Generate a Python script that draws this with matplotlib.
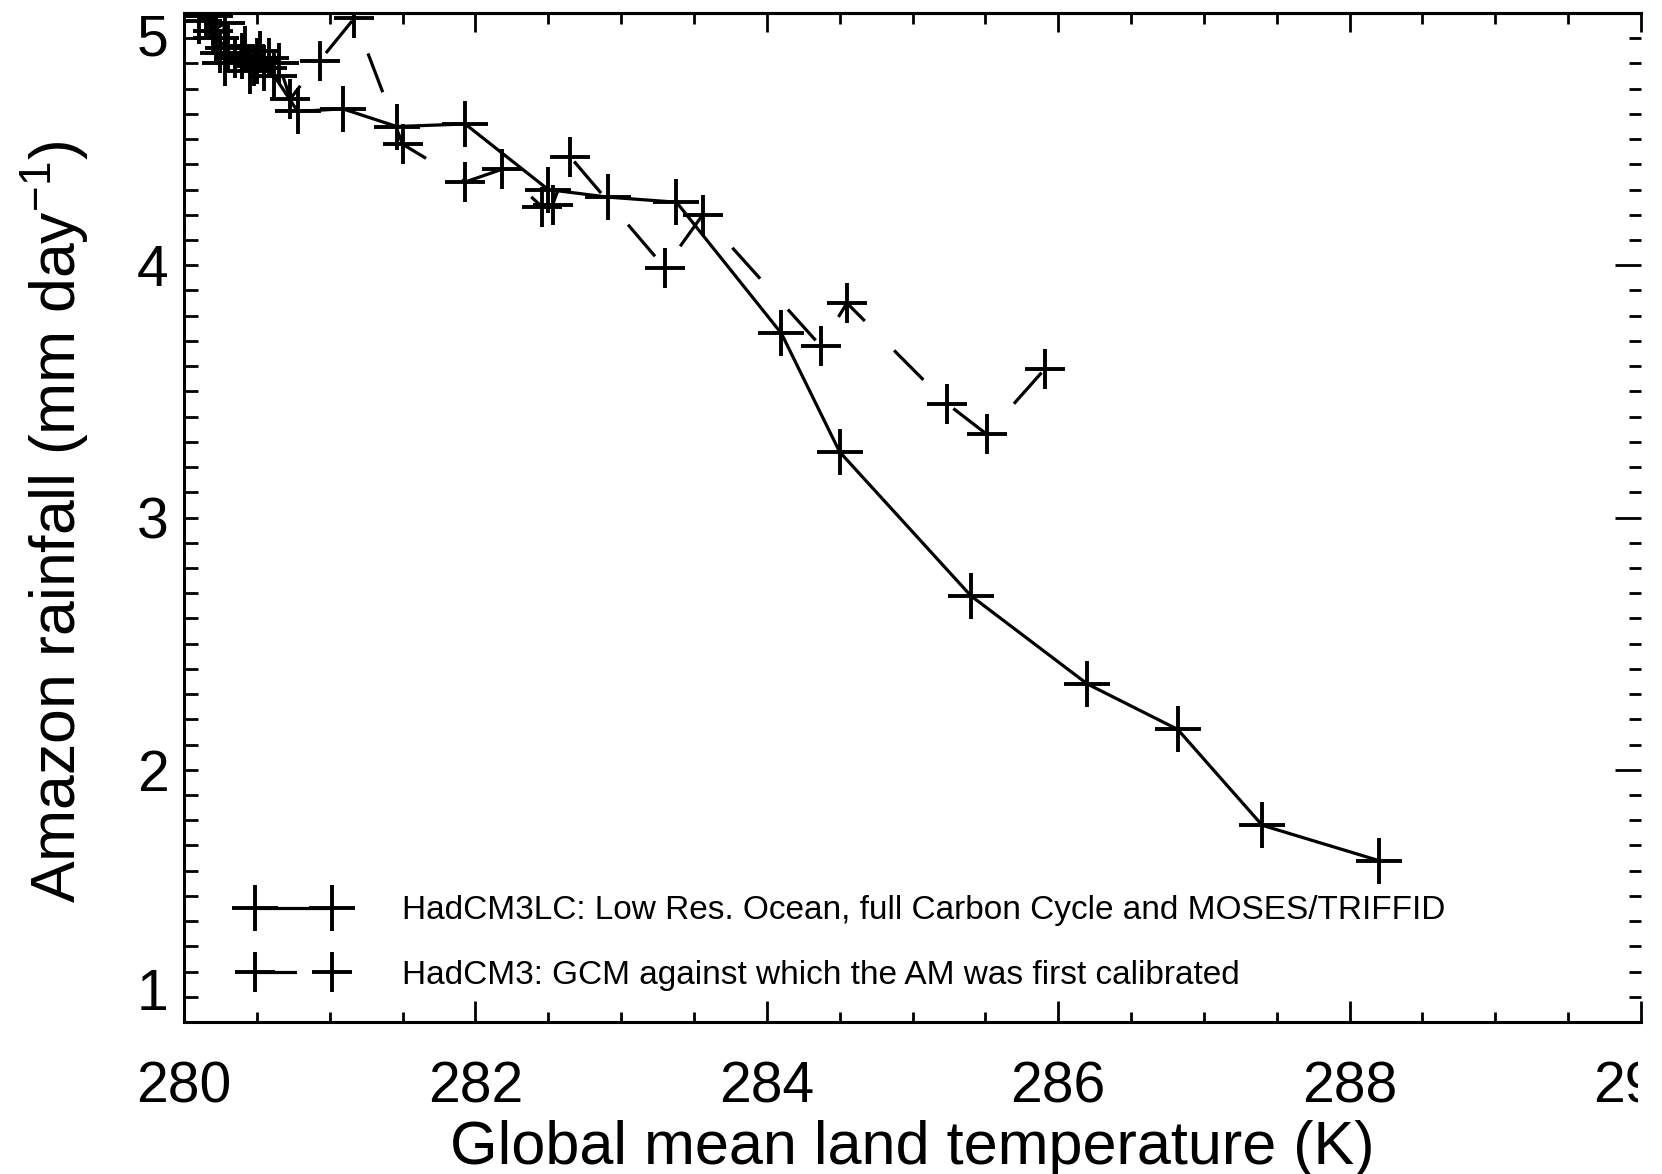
import matplotlib
matplotlib.use("Agg")
import matplotlib.pyplot as plt
from matplotlib.ticker import MultipleLocator, FixedLocator
from matplotlib.legend_handler import HandlerLine2D
from matplotlib.transforms import Bbox, TransformedBbox

# ---------------------------------------------------------
# Data
# ---------------------------------------------------------
# HadCM3LC (solid)
lc_temp = [280.10, 280.18, 280.22, 280.30, 280.28, 280.40, 280.45, 280.50,
           280.55, 280.62, 280.78, 281.09, 281.46, 281.93, 282.50, 282.91,
           283.38, 284.10, 284.50, 285.40, 286.20, 286.82, 287.40, 288.20]
lc_rain = [4.97, 4.99, 4.90, 4.86, 4.80, 4.83, 4.77, 4.81,
           4.78, 4.75, 4.61, 4.62, 4.55, 4.56, 4.30, 4.27,
           4.25, 3.73, 3.26, 2.69, 2.34, 2.16, 1.78, 1.64]

# HadCM3 (dashed)
hc_temp = [280.15, 280.20, 280.28, 280.25, 280.35, 280.42, 280.48, 280.52,
           280.58, 280.65, 280.73, 280.93, 281.17, 281.50, 281.93, 282.18,
           282.46, 282.53, 282.65, 283.30, 283.56, 284.37, 284.55, 285.24,
           285.51, 285.91]
hc_rain = [4.99, 4.93, 4.96, 4.84, 4.82, 4.87, 4.79, 4.85,
           4.82, 4.80, 4.66, 4.81, 4.98, 4.48, 4.33, 4.38,
           4.23, 4.24, 4.43, 3.99, 4.20, 3.68, 3.85, 3.45,
           3.33, 3.59]

lc_label = "HadCM3LC: Low Res. Ocean, full Carbon Cycle and MOSES/TRIFFID"
hc_label = "HadCM3: GCM against which the AM was first calibrated"

x_ticks = [280, 282, 284, 286, 288, 290]
y_ticks = [1, 2, 3, 4, 5]

# ---------------------------------------------------------
# Style
# ---------------------------------------------------------
plt.rcParams["font.family"] = ["Liberation Sans", "DejaVu Sans"]
plt.rcParams["mathtext.fontset"] = "custom"
plt.rcParams["mathtext.rm"] = "Liberation Sans"
plt.rcParams["mathtext.it"] = "Liberation Sans"

W, H = 1662, 1174
fig = plt.figure(figsize=(W / 100, H / 100), dpi=100)
ax = fig.add_axes([184 / W, 1 - 1022 / H, (1641 - 184) / W, (1022 - 13) / H])

lw = 2.3
ax.plot(lc_temp, lc_rain, color="black", lw=lw, marker="+", ms=33, mew=2.8,
        label=lc_label)
ax.plot(hc_temp, hc_rain, color="black", lw=lw, ls=(0, (13, 13)), marker="+",
        ms=29, mew=2.8, label=hc_label)

ax.set_xlim(280, 290)
ax.set_ylim(1, 5)

# ---------------------------------------------------------
# Axes, ticks
# ---------------------------------------------------------
for s in ["left", "bottom", "top"]:
    ax.spines[s].set_linewidth(2.2)
ax.spines["right"].set_visible(False)

ax.xaxis.set_major_locator(FixedLocator(x_ticks))
ax.xaxis.set_minor_locator(MultipleLocator(0.5))
ax.yaxis.set_major_locator(FixedLocator(y_ticks))
ax.yaxis.set_minor_locator(MultipleLocator(0.1))
ax.set_xticklabels([str(v) for v in x_ticks])
ax.set_yticklabels([str(v) for v in y_ticks])

ax.tick_params(axis="x", which="major", direction="in", length=15, width=2,
               labelsize=41, pad=28)
ax.tick_params(axis="x", which="minor", direction="in", length=7, width=2)
ax.tick_params(axis="y", which="both", direction="in", length=10, width=2)
ax.tick_params(axis="y", which="major", labelsize=41, pad=11)

top = ax.secondary_xaxis("top")
top.xaxis.set_major_locator(FixedLocator(x_ticks))
top.xaxis.set_minor_locator(MultipleLocator(0.5))
top.tick_params(which="major", direction="in", length=14, width=2, labeltop=False)
top.tick_params(which="minor", direction="in", length=8, width=2)
top.spines["top"].set_linewidth(2.2)

right = ax.secondary_yaxis("right")
right.yaxis.set_major_locator(FixedLocator(y_ticks))
right.yaxis.set_minor_locator(MultipleLocator(0.1))
right.tick_params(which="major", direction="in", length=19, width=2, labelright=False)
right.tick_params(which="minor", direction="in", length=9, width=2)
right.spines["right"].set_visible(False)

ylabels = ax.get_yticklabels()
ylabels[0].set_va("bottom")
ylabels[-1].set_va("top")

# the original picture is cropped at the right axis, cutting "290"
clip = TransformedBbox(Bbox([[0, 0], [1638 / W, 1]]), fig.transFigure)
for lab in ax.get_xticklabels():
    lab.set_clip_box(clip)
    lab.set_clip_on(True)

fig.text(912 / W, 1 - 1164 / H, "Global mean land temperature (K)",
         ha="center", va="baseline", fontsize=44)
fig.text(55 / W, 1 - 522 / H, r"Amazon rainfall (mm day$^{-1}$)",
         ha="center", va="center", rotation=90, fontsize=45)

# ---------------------------------------------------------
# Legend
# ---------------------------------------------------------
ax.legend(loc="lower left", bbox_to_anchor=(0.035, 0.031), frameon=False,
          fontsize=24, numpoints=2, handlelength=3.5, handletextpad=1.5,
          borderpad=0, borderaxespad=0, labelspacing=1.0,
          handler_map={plt.Line2D: HandlerLine2D(marker_pad=0.6)})

fig.savefig("out.png", dpi=100, facecolor="white")
